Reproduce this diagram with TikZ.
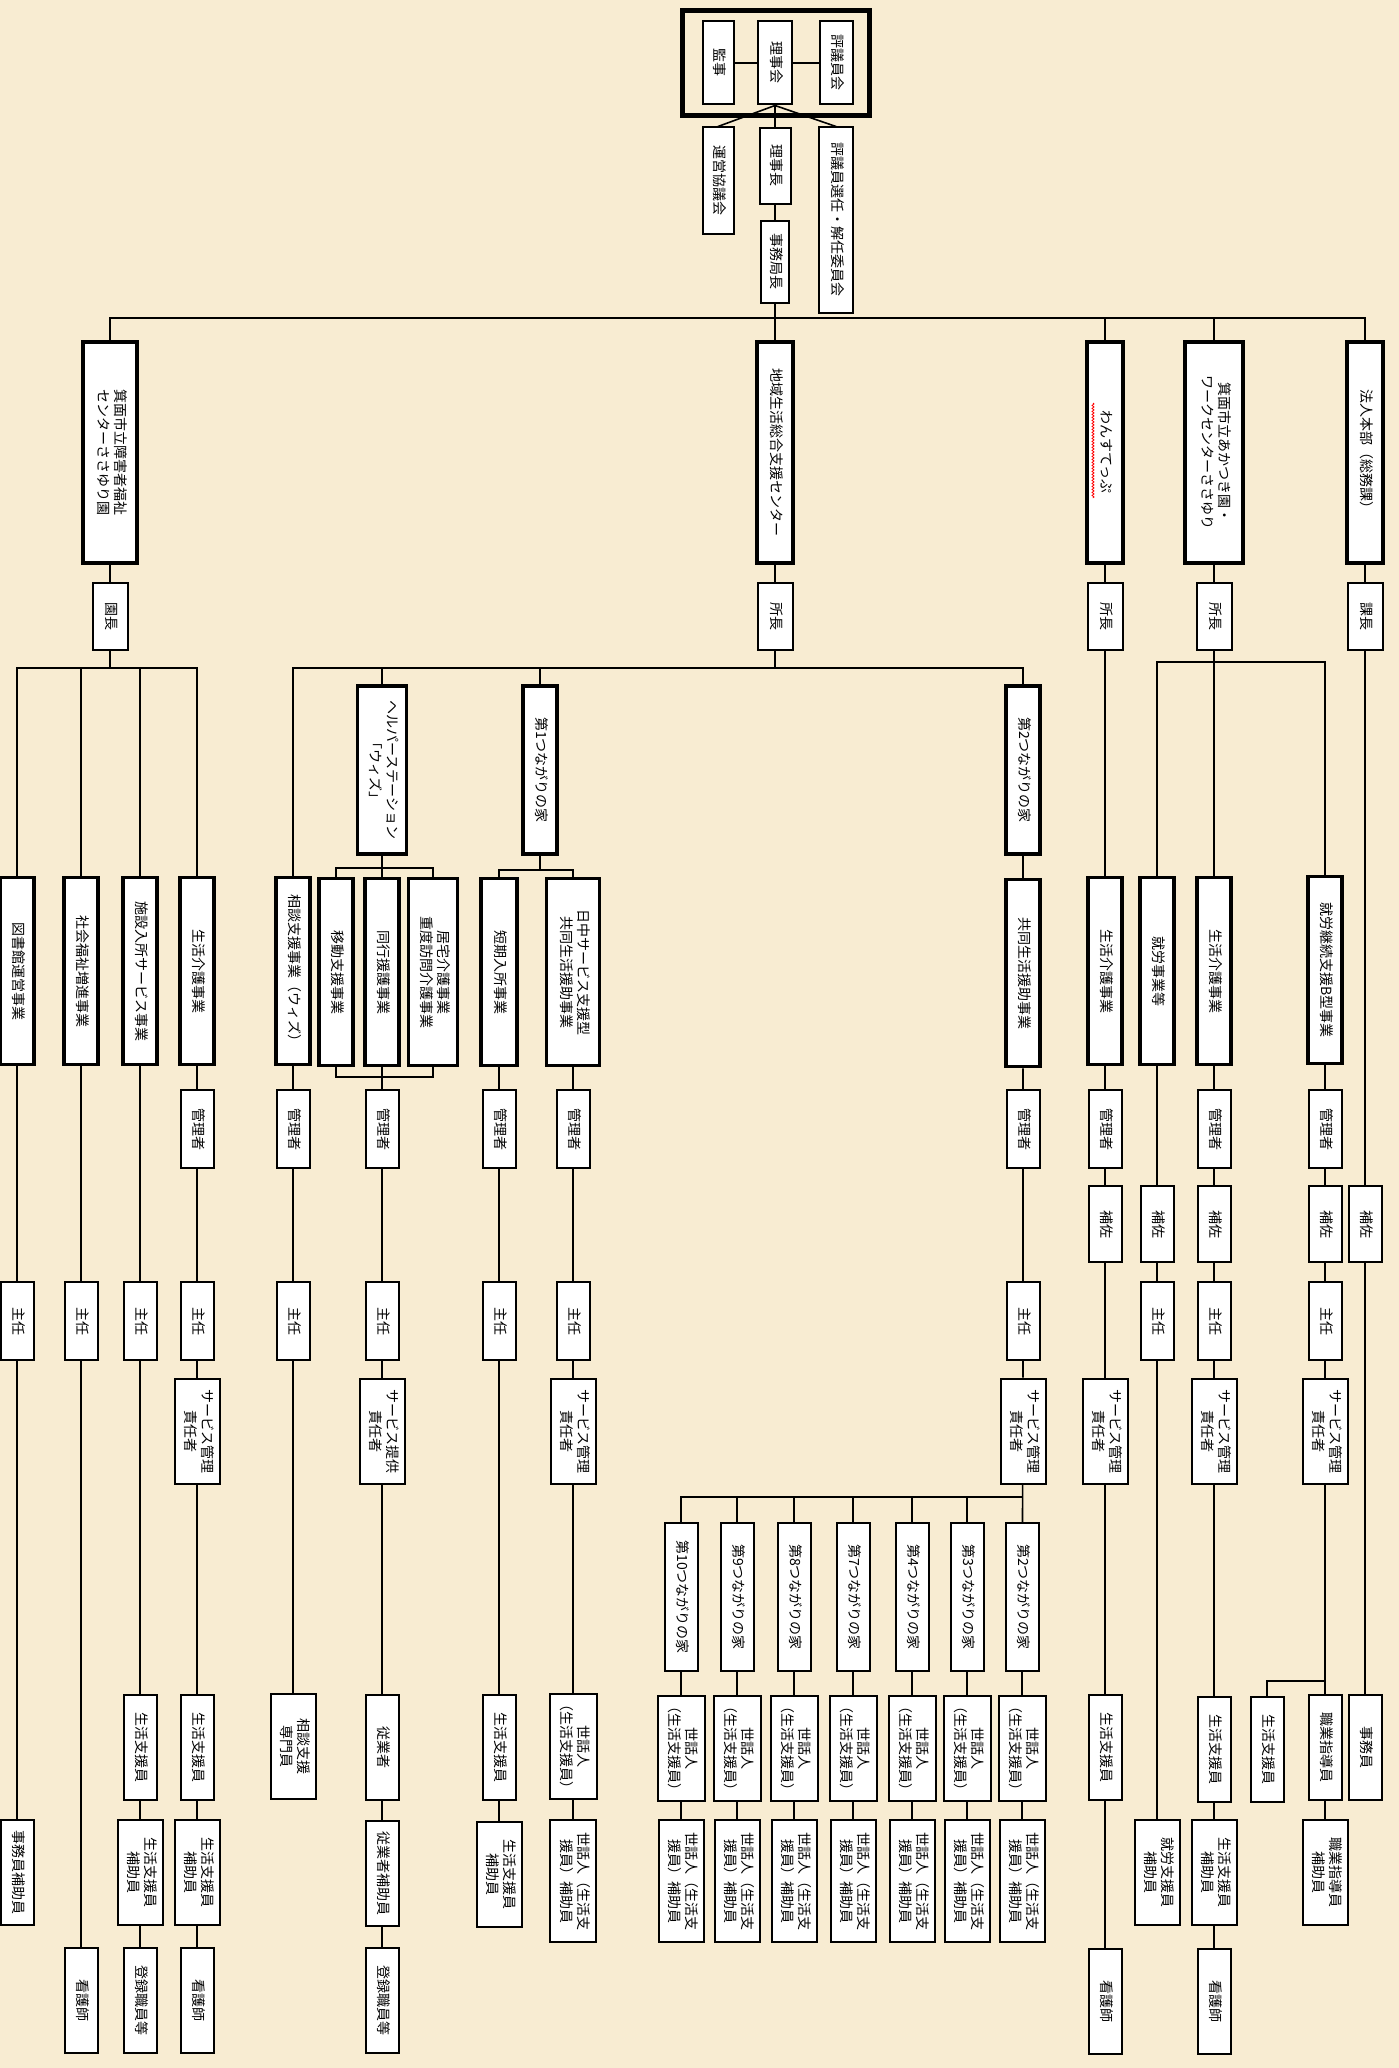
\documentclass[tikz,border=0pt]{standalone}
\usepackage{tikz}
\usepackage{graphicx}
\usepackage{fontspec}
\newfontfamily\jp{Noto Sans CJK JP}
\definecolor{paper}{HTML}{F8ECD2}
\usetikzlibrary{decorations.pathmorphing}
\newcommand{\vt}[1]{\rotatebox{-90}{\begin{tabular}{@{}c@{}}#1\end{tabular}}}
\tikzset{
  every node/.style={font=\jp\fontsize{14}{17}\selectfont},
  hdbox/.style={draw, fill=white, line width=4pt, inner sep=0pt, minimum width=36, minimum height=221},
  unitbox/.style={draw, fill=white, line width=3.5pt, inner sep=0pt, minimum width=34, minimum height=187},
  postbox/.style={draw, fill=white, line width=2pt, inner sep=0pt, minimum width=33, minimum height=78},
  staffbox/.style={postbox, minimum height=105},
  link/.style={line width=1.6pt},
}

\begin{document}
\begin{tikzpicture}[x=1pt, y=-1pt]
   \fill[paper] (0,0) rectangle (1399,2068);
   \useasboundingbox (0,0) rectangle (1399,2068);
   % Board
   \node[postbox, minimum width=31, minimum height=83] (kanji) at (718,63) {\vt{監事}};
   \node[postbox, minimum width=34, minimum height=83] (rijikai) at (775,63) {\vt{理事会}};
   \node[postbox, minimum width=33, minimum height=83] (hyogi) at (836,63) {\vt{評議員会}};
   \draw[line width=5pt] (682,11) rectangle (869,116);
   \node[postbox, minimum width=31, minimum height=107] (unei) at (718,181) {\vt{運営協議会}};
   \node[postbox, minimum width=31, minimum height=76] (rijicho) at (775,166) {\vt{理事長}};
   \node[postbox, minimum width=28, minimum height=81] (jimu) at (775,262) {\vt{事務局長}};
   \node[postbox, minimum width=34, minimum height=185] (senin) at (836,220) {\vt{評議員選任・解任委員会}};
   \draw[link] (kanji) -- (rijikai) -- (hyogi);
   \draw[link] (unei.north) -- (rijikai.south) -- (senin.north);
   \draw[link] (rijikai) -- (rijicho) -- (jimu);
   % Facilities
   \node[hdbox, minimum width=54] (ssy) at (110,452) {\vt{箕面市立障害者福祉\\センターささゆり園}};
   \node[hdbox] (chiiki) at (775,452) {\vt{地域生活総合支援センター}};
   \node[hdbox] (wan) at (1105,452) {\vt{わんすてっぷ}};
   \node[hdbox, minimum width=58] (aka) at (1214,452) {\vt{箕面市立あかつき園・\\ワークセンターささゆり}};
   \node[hdbox] (honbu) at (1365,452) {\vt{法人本部（総務課）}};
   \draw[red, line width=0.8pt, decorate, decoration={snake, amplitude=1pt, segment length=3pt}] (1093,403) -- (1093,498);
   \coordinate (bar) at (0,318);
   \draw[link] (jimu.south) -- (jimu.south |- bar);
   \draw[link] (ssy.north) |- (honbu.north |- bar) -- (honbu.north);
   \foreach \n in {chiiki, wan, aka}
      \draw[link] (\n.north) -- (\n.north |- bar);
   % Heads
   \node[postbox, minimum width=35, minimum height=67] (ssyC) at (110,616) {\vt{園長}};
   \node[postbox, minimum width=35, minimum height=67] (chiikiC) at (775,616) {\vt{所長}};
   \node[postbox, minimum width=35, minimum height=67] (wanC) at (1105,616) {\vt{所長}};
   \node[postbox, minimum width=35, minimum height=67] (akaC) at (1214,616) {\vt{所長}};
   \node[postbox, minimum width=35, minimum height=67] (honbuC) at (1365,616) {\vt{課長}};
   \foreach \n in {ssy, chiiki, wan, aka, honbu}
      \draw[link] (\n) -- (\n C);
   % Services
   \node[unitbox] (b1) at (17,971) {\vt{図書館運営事業}};
   \node[unitbox] (b2) at (81,971) {\vt{社会福祉増進事業}};
   \node[unitbox] (b3) at (140,971) {\vt{施設入所サービス事業}};
   \node[unitbox] (b4) at (197,971) {\vt{生活介護事業}};
   \node[unitbox] (b5) at (293,971) {\vt{相談支援事業（ウィズ）}};
   \node[unitbox, minimum width=49, minimum height=168] (hp) at (382,770) {\vt{ヘルパーステーション\\「ウィズ」}};
   \node[unitbox] (b6a) at (336,972) {\vt{移動支援事業}};
   \node[unitbox] (b6) at (382,972) {\vt{同行援護事業}};
   \node[unitbox, minimum width=49] (b6b) at (433,972) {\vt{居宅介護事業\\重度訪問介護事業}};
   \node[unitbox, minimum height=168] (t1) at (540,770) {\vt{第1つながりの家}};
   \node[unitbox, minimum width=36] (b7) at (499,972) {\vt{短期入所事業}};
   \node[unitbox, minimum width=53] (b8) at (573,972) {\vt{日中サービス支援型\\共同生活援助事業}};
   \node[unitbox, minimum height=168] (t2) at (1023,770) {\vt{第2つながりの家}};
   \node[unitbox] (b9) at (1023,973) {\vt{共同生活援助事業}};
   \node[unitbox] (b10) at (1105,971) {\vt{生活介護事業}};
   \node[unitbox] (b11) at (1157,971) {\vt{就労事業等}};
   \node[unitbox] (b12) at (1214,971) {\vt{生活介護事業}};
   \node[unitbox] (b13) at (1325,970) {\vt{就労継続支援B型事業}};
   \coordinate (lv) at (0,668);
   \coordinate (lva) at (0,662);
   \draw[link] (ssyC.south) -- (ssyC.south |- lv);
   \draw[link] (b1.north) |- (b4.north |- lv) -- (b4.north);
   \foreach \n in {b2, b3}
      \draw[link] (\n.north) -- (\n.north |- lv);
   \draw[link] (chiikiC.south) -- (chiikiC.south |- lv);
   \draw[link] (b5.north) |- (t2.north |- lv) -- (t2.north);
   \foreach \n in {hp, t1}
      \draw[link] (\n.north) -- (\n.north |- lv);
   \draw[link] (akaC.south) -- (akaC.south |- lva);
   \draw[link] (b11.north) |- (b13.north |- lva) -- (b13.north);
   \draw[link] (b12.north) -- (b12.north |- lva);
   % Helper station and group homes
   \coordinate (hpa) at (0,868);
   \coordinate (hpb) at (0,1077);
   \draw[link] (hp) -- (b6);
   \draw[link] (b6a.north) |- (b6b.north |- hpa) -- (b6b.north);
   \draw[link] (b6a.south) |- (b6b.south |- hpb) -- (b6b.south);
   \coordinate (tsa) at (0,870);
   \draw[link] (t1.south) -- (t1.south |- tsa);
   \draw[link] (b7.north) |- (b8.north |- tsa) -- (b8.north);
   \draw[link] (t2) -- (b9);
   % Staff
   \node[postbox] (k4) at (197,1129) {\vt{管理者}};
   \node[postbox] (k5) at (293,1129) {\vt{管理者}};
   \node[postbox] (k6) at (382,1129) {\vt{管理者}};
   \node[postbox] (k7) at (499,1129) {\vt{管理者}};
   \node[postbox] (k8) at (573,1129) {\vt{管理者}};
   \node[postbox] (k9) at (1023,1129) {\vt{管理者}};
   \node[postbox] (k10) at (1105,1129) {\vt{管理者}};
   \node[postbox] (k12) at (1214,1129) {\vt{管理者}};
   \node[postbox] (k13) at (1325,1129) {\vt{管理者}};
   \node[postbox, minimum height=76] (h10) at (1105,1224) {\vt{補佐}};
   \node[postbox, minimum height=76] (h11) at (1157,1224) {\vt{補佐}};
   \node[postbox, minimum height=76] (h12) at (1214,1224) {\vt{補佐}};
   \node[postbox, minimum height=76] (h13) at (1325,1224) {\vt{補佐}};
   \node[postbox, minimum height=76] (h14) at (1365,1224) {\vt{補佐}};
   \foreach \n/\x in {1/17, 2/81, 3/140, 4/197, 5/293, 6/382, 7/499, 8/573, 9/1023, 11/1157, 12/1214, 13/1325}
      \node[postbox] (s\n) at (\x,1321) {\vt{主任}};
   \foreach \n/\x in {4/197, 8/573, 9/1023, 10/1105, 12/1214, 13/1325}
      \node[staffbox, minimum width=45] (m\n) at (\x,1431) {\vt{サービス管理\\責任者}};
   \node[staffbox, minimum width=45] (m6) at (382,1431) {\vt{サービス提供\\責任者}};
   % Staff, lower rows
   \node[staffbox] (a3) at (140,1747) {\vt{生活支援員}};
   \node[staffbox] (a4) at (197,1747) {\vt{生活支援員}};
   \node[staffbox, minimum width=45] (a5) at (293,1746) {\vt{相談支援\\専門員}};
   \node[staffbox] (a6) at (382,1747) {\vt{従業者}};
   \node[staffbox] (a7) at (499,1747) {\vt{生活支援員}};
   \node[staffbox, minimum width=47] (a8) at (573,1746) {\vt{世話人\\（生活支援員）}};
   \node[staffbox] (a10) at (1105,1747) {\vt{生活支援員}};
   \node[staffbox] (a12) at (1214,1749) {\vt{生活支援員}};
   \node[staffbox] (a13x) at (1267,1749) {\vt{生活支援員}};
   \node[staffbox] (a13) at (1325,1747) {\vt{職業指導員}};
   \node[staffbox] (a14) at (1365,1747) {\vt{事務員}};
   \node[staffbox] (bb1) at (17,1872) {\vt{事務員補助員}};
   \node[staffbox, minimum width=45] (bb3) at (140,1872) {\vt{生活支援員\\補助員}};
   \node[staffbox, minimum width=45] (bb4) at (197,1872) {\vt{生活支援員\\補助員}};
   \node[staffbox] (bb6) at (382,1873) {\vt{従業者補助員}};
   \node[staffbox, minimum width=45] (bb7) at (499,1874) {\vt{生活支援員\\補助員}};
   \node[staffbox, minimum width=46, minimum height=122] (bb8) at (573,1881) {\vt{世話人（生活支\\援員）補助員}};
   \node[staffbox, minimum width=45] (bb11) at (1157,1872) {\vt{就労支援員\\補助員}};
   \node[staffbox, minimum width=45] (bb12) at (1214,1872) {\vt{生活支援員\\補助員}};
   \node[staffbox, minimum width=45] (bb13) at (1325,1872) {\vt{職業指導員\\補助員}};
   \node[staffbox] (c2) at (81,2000) {\vt{看護師}};
   \node[staffbox] (c3) at (140,2000) {\vt{登録職員等}};
   \node[staffbox] (c4) at (197,2000) {\vt{看護師}};
   \node[staffbox] (c6) at (382,2000) {\vt{登録職員等}};
   \node[staffbox] (c10) at (1105,2001) {\vt{看護師}};
   \node[staffbox] (c12) at (1214,2001) {\vt{看護師}};
   % Group homes under the 2nd house
   \foreach \i/\x/\t in {1/681/10, 2/737/9, 3/794/8, 4/853/7, 5/912/4, 6/967/3, 7/1022/2} {
      \node[postbox, minimum height=148] (g\i) at (\x,1597) {\vt{第\t つながりの家}};
      \node[staffbox, minimum width=47] (ga\i) at (\x,1748) {\vt{世話人\\（生活支援員）}};
      \node[staffbox, minimum width=45, minimum height=122] (gb\i) at (\x,1881) {\vt{世話人（生活支\\援員）補助員}};
      \draw[link] (g\i) -- (ga\i) -- (gb\i);
   }
   \coordinate (gbar) at (0,1497);
   \draw[link] (g1.north) |- (g7.north |- gbar);
   \foreach \i in {2,...,6}
      \draw[link] (g\i.north) -- (g\i.north |- gbar);
   % Columns
   \draw[link] (b1) -- (s1) -- (bb1);
   \draw[link] (b2) -- (s2) -- (c2);
   \draw[link] (b3) -- (s3) -- (a3) -- (bb3) -- (c3);
   \draw[link] (b4) -- (k4) -- (s4) -- (m4) -- (a4) -- (bb4) -- (c4);
   \draw[link] (b5) -- (k5) -- (s5) -- (a5);
   \draw[link] (b6) -- (k6) -- (s6) -- (m6) -- (a6) -- (bb6) -- (c6);
   \draw[link] (b7) -- (k7) -- (s7) -- (a7) -- (bb7);
   \draw[link] (b8) -- (k8) -- (s8) -- (m8) -- (a8) -- (bb8);
   \draw[link] (b9) -- (k9) -- (s9) -- (m9) -- (g7);
   \draw[link] (wanC) -- (b10) -- (k10) -- (h10) -- (m10) -- (a10) -- (c10);
   \draw[link] (b11) -- (h11) -- (s11) -- (bb11);
   \draw[link] (b12) -- (k12) -- (h12) -- (s12) -- (m12) -- (a12) -- (bb12) -- (c12);
   \draw[link] (b13) -- (k13) -- (h13) -- (s13) -- (m13) -- (a13) -- (bb13);
   \coordinate (bsplit) at (0,1681);
   \draw[link] (a13.north |- bsplit) -| (a13x.north);
   \draw[link] (honbuC) -- (h14) -- (a14);
\end{tikzpicture}
\end{document}
